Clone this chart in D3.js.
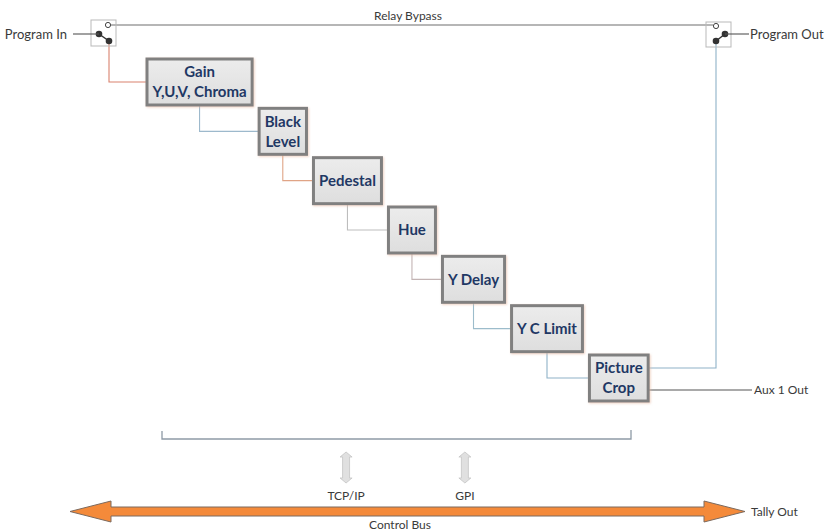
<!DOCTYPE html>
<html>
<head>
<meta charset="utf-8">
<script src="https://cdn.jsdelivr.net/npm/d3@7"></script>
<style>
  html, body { margin: 0; padding: 0; background: #fff; }
  svg { display: block; }
  .lbl { font-family: Lato, "Open Sans", sans-serif; font-size: 12px; fill: #3a3a3a; }
  .lbl.io { font-size: 13px; }
  .box-text { font-family: Lato, "Open Sans", sans-serif; font-size: 15px; font-weight: bold; fill: #1f3864; }
</style>
</head>
<body>
<svg id="chart"></svg>
<script>
// processing chain, top-left to bottom-right
const stageLabels = [
    ["Gain", "Y,U,V, Chroma"],
    ["Black", "Level"],
    ["Pedestal"],
    ["Hue"],
    ["Y Delay"],
    ["Y C Limit"],
    ["Picture", "Crop"]
]
const ioLabels = ["Program In", "Program Out", "Aux 1 Out", "Relay Bypass"]
const busTaps = ["TCP/IP", "GPI"]
const busLabels = ["Control Bus", "Tally Out"]

const width = 833
const height = 532

// link colours between stages (in -> gain, gain -> black, ...)
const linkColors = ['#d9826e', '#9db9cc', '#e0a486', '#bdbdbd', '#c3b4b4', '#9cbccb', '#8fb2c8']

const svg = d3.select('#chart')
    .attr('width', width)
    .attr('height', height)

const defs = svg.append('defs')
const grad = defs.append('linearGradient')
    .attr('id', 'boxfill')
    .attr('x1', 0).attr('y1', 0).attr('x2', 0).attr('y2', 1)
grad.append('stop').attr('offset', '0%').attr('stop-color', '#ececec')
grad.append('stop').attr('offset', '100%').attr('stop-color', '#dedede')

const shadow = defs.append('filter').attr('id', 'shadow')
    .attr('x', '-10%').attr('y', '-10%').attr('width', '130%').attr('height', '130%')
shadow.append('feDropShadow')
    .attr('dx', 1).attr('dy', 1).attr('stdDeviation', 1.2)
    .attr('flood-color', '#e6b8a0').attr('flood-opacity', 0.6)

// stage centres step down a linear scale
const y = d3.scaleLinear()
    .domain([0, stageLabels.length - 1])
    .range([82, 378])

const boxH = 46
const gap = 7

//SWITCHES

const swIn = { x: 91, y: 20, w: 25, h: 26, open: [108, 25], a: [99, 34], b: [109, 41] }
const swOut = { x: 706, y: 22, w: 25, h: 25, open: [716, 26], a: [725, 34], b: [716, 41] }

// relay bypass line
svg.append('line')
    .attr('x1', swIn.open[0] + 3).attr('y1', 25)
    .attr('x2', swOut.open[0] - 3).attr('y2', 25)
    .attr('stroke', '#6f6f6f').attr('stroke-width', 1.2)

svg.append('text')
    .attr('class', 'lbl')
    .attr('x', 408).attr('y', 20)
    .attr('text-anchor', 'middle')
    .text(ioLabels[3])

//STAGE BOXES

const boxes = svg.append('g').attr('class', 'boxes')

let left = 147
const stages = stageLabels.map((lines, i) => {
    const g = boxes.append('g')
    const cy = y(i)
    const texts = lines.map((t, j) => g.append('text')
        .attr('class', 'box-text')
        .attr('y', cy + (j - (lines.length - 1) / 2) * 20)
        .attr('dy', '0.35em')
        .attr('text-anchor', 'middle')
        .text(t))
    const tw = d3.max(texts, t => t.node().getComputedTextLength())
    const w = Math.max(tw + 11, 47)
    const cx = left + w / 2
    texts.forEach(t => t.attr('x', cx))
    g.insert('rect', 'text')
        .attr('x', left).attr('y', cy - boxH / 2)
        .attr('width', w).attr('height', boxH)
        .attr('fill', 'url(#boxfill)')
        .attr('stroke', '#808080')
        .attr('stroke-width', 3)
        .attr('filter', 'url(#shadow)')
    const s = { left: left, right: left + w, cx: cx, cy: cy, top: cy - boxH / 2, bottom: cy + boxH / 2 }
    left = left + w + gap
    return s
})

//CONNECTORS

const links = svg.insert('g', '.boxes').attr('class', 'links')
const line = d3.line()

// program in -> gain
links.append('path')
    .attr('d', line([swIn.b, [swIn.b[0], stages[0].cy], [stages[0].left, stages[0].cy]]))
    .attr('fill', 'none').attr('stroke', linkColors[0]).attr('stroke-width', 1.1)

stages.slice(1).forEach((s, i) => {
    const p = stages[i]
    links.append('path')
        .attr('d', line([[p.cx, p.bottom], [p.cx, s.cy], [s.left, s.cy]]))
        .attr('fill', 'none')
        .attr('stroke', linkColors[i + 1])
        .attr('stroke-width', 1.1)
})

const last = stages[stages.length - 1]

// picture crop -> program out switch
links.append('path')
    .attr('d', line([[last.right, last.cy - 10], [swOut.b[0], last.cy - 10], swOut.b]))
    .attr('fill', 'none').attr('stroke', '#8fb2c8').attr('stroke-width', 1.1)

// picture crop -> aux out
links.append('path')
    .attr('d', line([[last.right, last.cy + 12], [752, last.cy + 12]]))
    .attr('fill', 'none').attr('stroke', '#555').attr('stroke-width', 1.1)

svg.append('text')
    .attr('class', 'lbl')
    .attr('x', 754).attr('y', last.cy + 12)
    .attr('dy', '0.35em')
    .text(ioLabels[2])

// draw switches on top
;[swIn, swOut].forEach(sw => {
    const g = svg.append('g')
    g.append('rect')
        .attr('x', sw.x).attr('y', sw.y)
        .attr('width', sw.w).attr('height', sw.h)
        .attr('fill', 'none').attr('stroke', '#b9b9b9').attr('stroke-width', 1)
    g.append('line')
        .attr('x1', sw.a[0]).attr('y1', sw.a[1])
        .attr('x2', sw.b[0]).attr('y2', sw.b[1])
        .attr('stroke', '#333').attr('stroke-width', 1.5)
    g.append('circle')
        .attr('cx', sw.open[0]).attr('cy', sw.open[1]).attr('r', 2.6)
        .attr('fill', '#fff').attr('stroke', '#444').attr('stroke-width', 1)
    g.selectAll('circle.dot')
        .data([sw.a, sw.b])
        .enter()
        .append('circle')
        .attr('class', 'dot')
        .attr('cx', d => d[0]).attr('cy', d => d[1]).attr('r', 3.3)
        .attr('fill', '#333')
})

svg.append('line')
    .attr('x1', 73).attr('y1', swIn.a[1]).attr('x2', swIn.a[0]).attr('y2', swIn.a[1])
    .attr('stroke', '#555').attr('stroke-width', 1.1)
svg.append('text')
    .attr('class', 'lbl io')
    .attr('x', 67).attr('y', swIn.a[1])
    .attr('dy', '0.35em')
    .attr('text-anchor', 'end')
    .text(ioLabels[0])

svg.append('line')
    .attr('x1', swOut.a[0]).attr('y1', swOut.a[1]).attr('x2', 749).attr('y2', swOut.a[1])
    .attr('stroke', '#555').attr('stroke-width', 1.1)
svg.append('text')
    .attr('class', 'lbl io')
    .attr('x', 750).attr('y', swOut.a[1])
    .attr('dy', '0.35em')
    .text(ioLabels[1])

//CONTROL BRACKET AND BUS

svg.append('path')
    .attr('d', line([[162, 431], [162, 439], [631, 439], [631, 430]]))
    .attr('fill', 'none').attr('stroke', '#8e9aa6').attr('stroke-width', 1.3)

const busX = d3.scaleLinear().domain([0, 1]).range([70, 745])
const busY = 511.5
const tapX = [busX(0.409), busX(0.585)]

busTaps.forEach((t, i) => {
    const x = tapX[i]
    const top = 452, bot = 483, hw = 6, sw = 3.5, hl = 5
    const pts = [
        [x, top], [x + hw, top + hl], [x + sw, top + hl], [x + sw, bot - hl], [x + hw, bot - hl],
        [x, bot], [x - hw, bot - hl], [x - sw, bot - hl], [x - sw, top + hl], [x - hw, top + hl]
    ]
    svg.append('path')
        .attr('d', line(pts) + 'Z')
        .attr('fill', '#e0e0e0').attr('stroke', '#c4c4c4').attr('stroke-width', 0.8)
    svg.append('text')
        .attr('class', 'lbl')
        .attr('x', x).attr('y', 500)
        .attr('text-anchor', 'middle')
        .text(t)
})

// double headed orange bus arrow
const x0 = busX(0), x1 = busX(1)
const sh = 4.5, hh = 10.5, hlen = 41
const arrow = [
    [x0, busY], [x0 + hlen, busY - hh], [x0 + hlen, busY - sh], [x1 - hlen, busY - sh], [x1 - hlen, busY - hh],
    [x1, busY], [x1 - hlen, busY + hh], [x1 - hlen, busY + sh], [x0 + hlen, busY + sh], [x0 + hlen, busY + hh]
]
svg.append('path')
    .attr('d', line(arrow) + 'Z')
    .attr('fill', '#f48a3a')
    .attr('stroke', '#7c6a5e')
    .attr('stroke-width', 1)
    .attr('stroke-linejoin', 'miter')

svg.append('text')
    .attr('class', 'lbl')
    .attr('x', 400).attr('y', 529)
    .attr('text-anchor', 'middle')
    .text(busLabels[0])

svg.append('text')
    .attr('class', 'lbl')
    .attr('x', 751).attr('y', busY)
    .attr('dy', '0.35em')
    .text(busLabels[1])
</script>
</body>
</html>
